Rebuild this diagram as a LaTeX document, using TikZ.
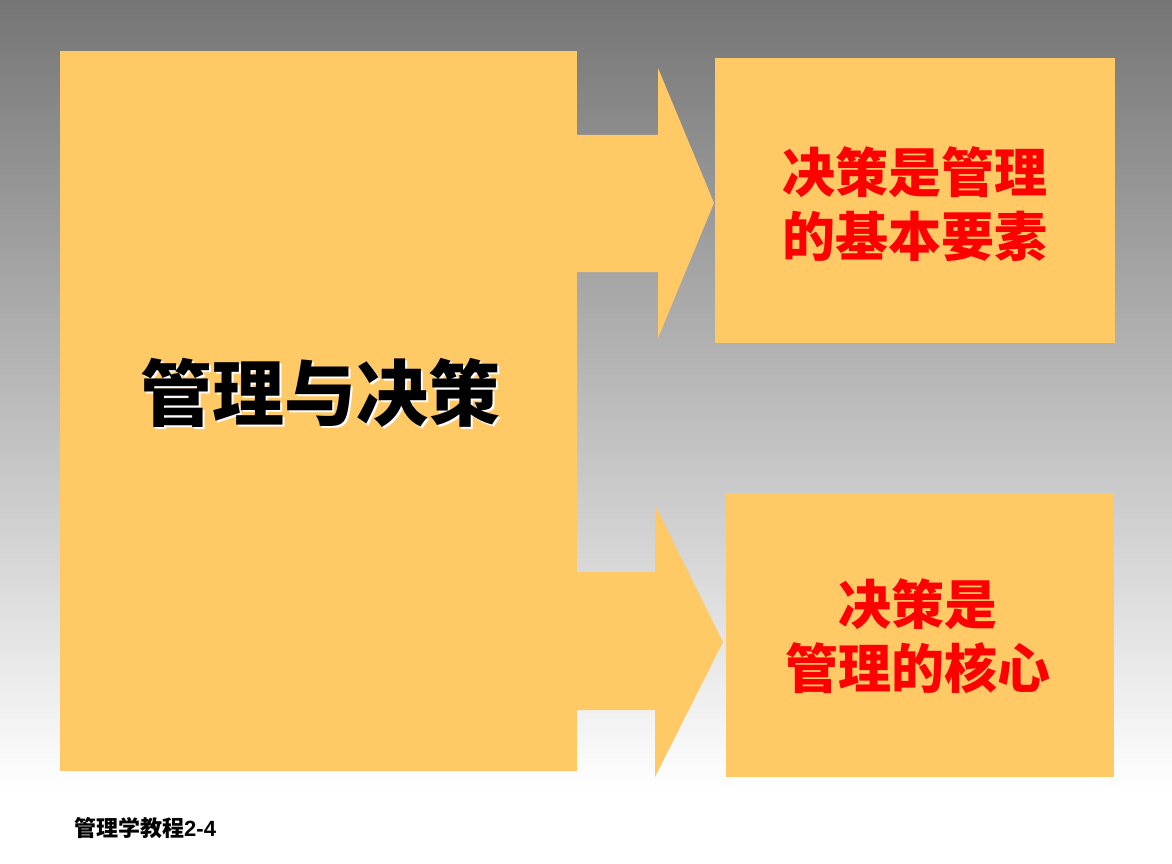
\documentclass[tikz,border=0pt]{standalone}
\usepackage{fontspec}
\newfontfamily\cjk{Noto Sans CJK SC}
\setmainfont{Liberation Sans}
\definecolor{boxy}{HTML}{FFC965}
\definecolor{bgtop}{HTML}{757575}
\tikzset{
  panel/.style={fill=boxy, draw=none},
  redtxt/.style={text=red, font=\cjk\bfseries\fontsize{53}{64}\selectfont, align=center, inner sep=0pt},
}
\begin{document}
\begin{tikzpicture}[x=1pt,y=-1pt]
\useasboundingbox (0,0) rectangle (1172,864);
\fill[white] (0,0) rectangle (1172,864);
\shade[top color=bgtop, bottom color=white] (0,0) rectangle (1172,790);
% left big box
\path[panel] (60,51) rectangle (577,771);
% upper arrow
\path[panel] (576,135) -- (658,135) -- (658,68) -- (714,203) -- (658,338) -- (658,272) -- (576,272) -- cycle;
% lower arrow
\path[panel] (576,572) -- (655,572) -- (655,505) -- (723,642) -- (655,777) -- (655,710) -- (576,710) -- cycle;
% right boxes
\path[panel] (715,58) rectangle (1115,343);
\path[panel] (726,493) rectangle (1114,777);
% main title with white shadow
\node[font=\cjk\bfseries\fontsize{72}{74}\selectfont, inner sep=0pt] (title) at (320,394)
  {\rlap{\hspace{2.5pt}\raisebox{-2.5pt}{\textcolor{white}{管理与决策}}}\textcolor{black}{管理与决策}};
\node[redtxt] (t1) at (915,204) {决策是管理\\的基本要素};
\node[redtxt] (t2) at (918,636) {决策是\\管理的核心};
\node[anchor=west, font=\bfseries\fontsize{22}{23}\selectfont, inner sep=0pt] (foot) at (74,828) {{\cjk\bfseries 管理学教程}2-4};
\end{tikzpicture}
\end{document}
